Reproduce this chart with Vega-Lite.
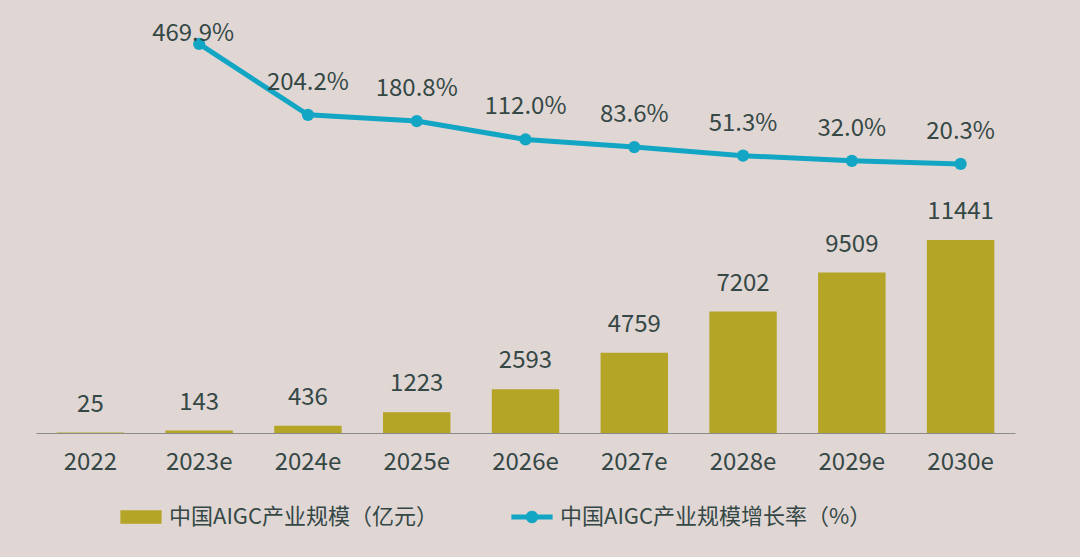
{
  "$schema": "https://vega.github.io/schema/vega-lite/v6.json",
  "width": 979,
  "height": 400,
  "padding": {"left": 36, "top": 33, "right": 65, "bottom": 124},
  "autosize": {"type": "none"},
  "background": "#e0d7d5",
  "config": {"view": {"stroke": null}, "font": "Noto Sans CJK SC"},
  "data": {
    "values": [
      {"year": "2022", "size": 25, "rate": null},
      {"year": "2023e", "size": 143, "rate": 4.699},
      {"year": "2024e", "size": 436, "rate": 2.042},
      {"year": "2025e", "size": 1223, "rate": 1.808},
      {"year": "2026e", "size": 2593, "rate": 1.12},
      {"year": "2027e", "size": 4759, "rate": 0.836},
      {"year": "2028e", "size": 7202, "rate": 0.513},
      {"year": "2029e", "size": 9509, "rate": 0.32},
      {"year": "2030e", "size": 11441, "rate": 0.203}
    ]
  },
  "encoding": {
    "x": {
      "field": "year",
      "type": "ordinal",
      "sort": null,
      "scale": {"paddingInner": 0.38, "paddingOuter": 0.19},
      "axis": {
        "title": null,
        "labelAngle": 0,
        "ticks": false,
        "labelPadding": 17,
        "labelFontSize": 24,
        "labelColor": "#354845",
        "domainColor": "#8a8a8a",
        "domainWidth": 1.2
      }
    }
  },
  "layer": [
    {
      "mark": {"type": "bar"},
      "encoding": {
        "y": {"field": "size", "type": "quantitative", "scale": {"domain": [0, 23711], "nice": false, "zero": true}, "axis": null},
        "color": {
          "datum": "中国AIGC产业规模（亿元）",
          "type": "nominal",
          "scale": {"domain": ["中国AIGC产业规模（亿元）", "中国AIGC产业规模增长率（%）"], "range": ["#b5a526", "#12a6c4"]},
          "legend": {
            "title": null,
            "orient": "none",
            "legendX": 84,
            "legendY": 463,
            "direction": "horizontal",
            "labelFontSize": 22,
            "labelLimit": 500,
            "labelColor": "#354845",
            "labelOffset": 7,
            "columnPadding": 72,
            "symbolSize": 1700,
            "symbolOpacity": 1,
            "encode": {
              "symbols": {
                "update": {
                  "shape": {"signal": "datum.value === '中国AIGC产业规模（亿元）' ? 'M-1,-0.33H1V0.33H-1Z' : 'M-1,-0.12H1V0.12H-1Z M0.3,0A0.3,0.3 0 1 1 -0.3,0A0.3,0.3 0 1 1 0.3,0Z'"},
                  "fill": {"scale": "color", "field": "value"},
                  "strokeWidth": {"value": 0},
                  "size": {"value": 1700},
                  "opacity": {"value": 1}
                }
              }
            }
          }
        }
      }
    },
    {
      "mark": {"type": "text", "fontSize": 24, "color": "#354845", "baseline": "alphabetic", "dy": -21},
      "encoding": {
        "y": {"field": "size", "type": "quantitative", "scale": {"domain": [0, 23711], "nice": false}, "axis": null},
        "text": {"field": "size", "type": "quantitative", "format": "d"}
      }
    },
    {
      "mark": {"type": "line", "strokeWidth": 5, "point": {"filled": true, "size": 150, "color": "#12a6c4"}},
      "encoding": {
        "y": {"field": "rate", "type": "quantitative", "scale": {"domain": [-9.88, 5.11], "nice": false, "zero": false}, "axis": null},
        "color": {"datum": "中国AIGC产业规模增长率（%）", "type": "nominal"}
      }
    },
    {
      "transform": [{"filter": "datum.rate != null && datum.year != '2023e'"}],
      "mark": {"type": "text", "fontSize": 24, "color": "#354845", "baseline": "alphabetic", "dy": -25},
      "encoding": {
        "y": {"field": "rate", "type": "quantitative", "scale": {"domain": [-9.88, 5.11], "nice": false, "zero": false}, "axis": null},
        "text": {"field": "rate", "type": "quantitative", "format": ".1%"}
      }
    },
    {
      "transform": [{"filter": "datum.year == '2023e'"}],
      "mark": {"type": "text", "fontSize": 24, "color": "#354845", "baseline": "alphabetic", "dy": -3, "dx": -6},
      "encoding": {
        "y": {"field": "rate", "type": "quantitative", "scale": {"domain": [-9.88, 5.11], "nice": false, "zero": false}, "axis": null},
        "text": {"field": "rate", "type": "quantitative", "format": ".1%"}
      }
    }
  ],
  "resolve": {"scale": {"y": "independent"}}
}
